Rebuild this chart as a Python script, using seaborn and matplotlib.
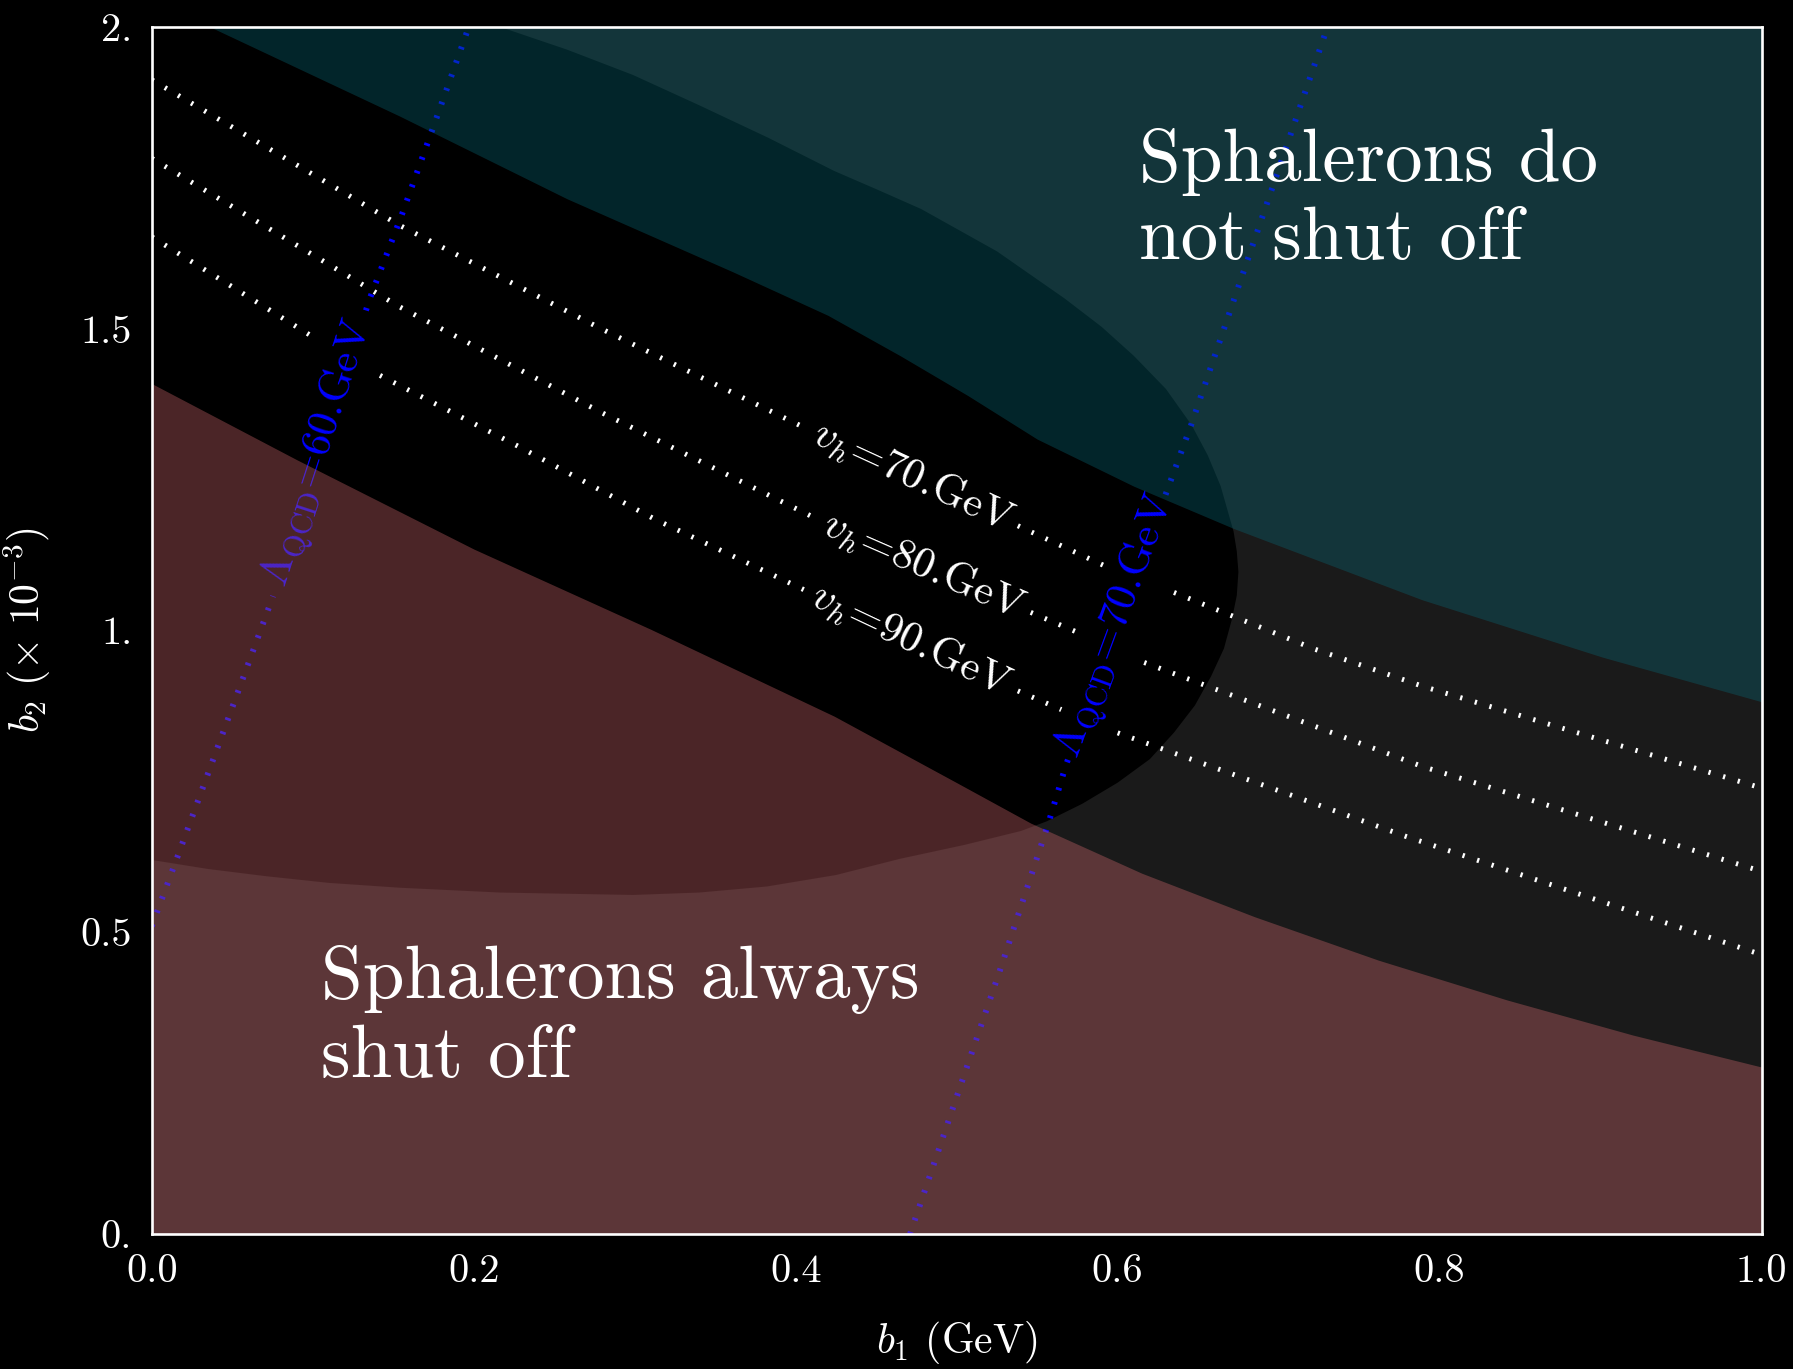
import numpy as np
import matplotlib
matplotlib.use("Agg")
import matplotlib.pyplot as plt
import seaborn as sns
from matplotlib.ticker import MultipleLocator

# ---------------- data ----------------
# region boundaries
teal_x = [0.036, 0.154, 0.258, 0.361, 0.420, 0.465, 0.507, 0.550, 0.610, 0.672, 0.789, 0.901, 1.0]
teal_lower = [2.0, 1.852, 1.715, 1.594, 1.522, 1.455, 1.389, 1.317, 1.239, 1.169, 1.051, 0.956, 0.882]

brown_x = [0.0, 0.09, 0.20, 0.31, 0.424, 0.50, 0.546, 0.615, 0.685, 0.762, 0.842, 0.92, 1.0]
brown_upper = [1.409, 1.283, 1.135, 1.002, 0.858, 0.748, 0.681, 0.598, 0.526, 0.454, 0.388, 0.330, 0.277]

dark_x = [0.0, 0.035, 0.0713, 0.110, 0.154, 0.2164, 0.299, 0.340, 0.382, 0.425, 0.465, 0.505,
          0.540, 0.556, 0.578, 0.600, 0.620, 0.635, 0.648, 0.658, 0.666, 0.671, 0.674, 0.675,
          0.674, 0.672, 0.664, 0.656, 0.646, 0.630, 0.610, 0.590, 0.567, 0.525, 0.478, 0.450,
          0.424, 0.383, 0.340, 0.299, 0.258, 0.216, 0.0]
dark_y = [0.620, 0.605, 0.593, 0.582, 0.574, 0.566, 0.562, 0.566, 0.576, 0.595, 0.622, 0.645,
          0.668, 0.684, 0.713, 0.748, 0.787, 0.831, 0.876, 0.924, 0.970, 1.019, 1.058, 1.097,
          1.131, 1.164, 1.239, 1.290, 1.340, 1.400, 1.455, 1.503, 1.550, 1.628, 1.698, 1.731,
          1.761, 1.816, 1.870, 1.920, 1.962, 2.0, 2.0]

# v_h contours
vh70_x = [0.0, 0.154, 0.279, 0.407, 0.538, 0.592, 0.635, 0.7225, 0.789, 1.0]
vh70_y = [1.912, 1.671, 1.500, 1.334, 1.1735, 1.107, 1.063, 0.969, 0.908, 0.739]
vh80_x = [0.0, 0.154, 0.279, 0.413, 0.546, 0.575, 0.6165, 0.789, 1.0]
vh80_y = [1.782, 1.536, 1.3615, 1.185, 1.030, 0.997, 0.947, 0.775, 0.601]
vh90_x = [0.0, 0.1003, 0.1418, 0.227, 0.312, 0.538, 0.565, 0.600, 0.779, 1.0]
vh90_y = [1.652, 1.486, 1.4225, 1.306, 1.185, 0.900, 0.869, 0.8305, 0.659, 0.463]

# Lambda_QCD contours
lq60_x = [0.0, 0.0153, 0.0754, 0.1355, 0.1553, 0.1744, 0.197]
lq60_y = [0.51, 0.62, 1.057, 1.55, 1.688, 1.83, 2.0]
lq70_x = [0.471, 0.4993, 0.527, 0.557, 0.568, 0.631, 0.6456, 0.6725, 0.7304]
lq70_y = [0.0, 0.222, 0.438, 0.681, 0.778, 1.234, 1.34, 1.55, 2.0]

# label gaps (along x for v_h lines, along y for Lambda lines)
vh70_gaps = [(0.407, 0.538), (0.592, 0.635)]
vh80_gaps = [(0.413, 0.546), (0.575, 0.6165)]
vh90_gaps = [(0.1003, 0.1418), (0.405, 0.538), (0.565, 0.600)]
lq60_gaps = [(1.057, 1.53)]
lq70_gaps = [(0.79, 1.225)]

vh_labels = ["70", "80", "90"]
lq_labels = ["60", "70"]

x_ticks = [0.0, 0.2, 0.4, 0.6, 0.8, 1.0]
x_ticklabels = ["0.0", "0.2", "0.4", "0.6", "0.8", "1.0"]
y_ticks = [0.0, 0.5, 1.0, 1.5, 2.0]
y_ticklabels = ["0.", "0.5", "1.", "1.5", "2."]

# ---------------- style ----------------
sns.set_theme(style="dark", rc={
    "figure.facecolor": "black",
    "axes.facecolor": "#1a1a1a",
    "axes.edgecolor": "white",
    "text.color": "white",
    "axes.labelcolor": "white",
    "xtick.color": "white",
    "ytick.color": "white",
})
plt.rcParams["font.family"] = ["cmr10"]
plt.rcParams["mathtext.fontset"] = "cm"
plt.rcParams["axes.formatter.use_mathtext"] = True
plt.rcParams["axes.unicode_minus"] = False

fig = plt.figure(figsize=(17.93, 13.69), dpi=100)
ax = fig.add_axes([0.0846, 0.0984, 0.8979, 0.8821])
ax.set_facecolor("#1a1a1a")
ax.set_xlim(0, 1)
ax.set_ylim(0, 2)

# dark (black) region
ax.fill(dark_x, dark_y, color="black", lw=0, zorder=1)


def draw_contour(xs, ys, gaps, along, color, lw, dash):
    xs = np.asarray(xs, float)
    ys = np.asarray(ys, float)
    t = xs if along == "x" else ys
    v = ys if along == "x" else xs
    edges = [t[0]] + [g for pair in sorted(gaps) for g in pair] + [t[-1]]
    for a, b in zip(edges[::2], edges[1::2]):
        inner = (t > a) & (t < b)
        tt = np.concatenate([[a], t[inner], [b]])
        vv = np.interp(tt, t, v)
        px, py = (tt, vv) if along == "x" else (vv, tt)
        sns.lineplot(x=px, y=py, sort=False, estimator=None, color=color,
                     lw=lw, linestyle=dash, ax=ax, zorder=1.5)


def label(xs, ys, gap, along, text, color):
    xs = np.asarray(xs, float)
    ys = np.asarray(ys, float)
    a, b = gap
    if along == "x":
        ya, yb = np.interp([a, b], xs, ys)
        cx, cy = (a + b) / 2, np.interp((a + b) / 2, xs, ys)
        ang = np.degrees(np.arctan2(yb - ya, b - a))
    else:
        xa, xb = np.interp([a, b], ys, xs)
        cy, cx = (a + b) / 2, np.interp((a + b) / 2, ys, xs)
        ang = np.degrees(np.arctan2(b - a, xb - xa))
    ax.text(cx, cy, text, color=color, fontsize=31, ha="center", va="center",
            rotation=ang, rotation_mode="anchor", transform_rotates_text=True,
            zorder=1.6)


for xs, ys, gaps, lab in [(vh70_x, vh70_y, vh70_gaps, vh_labels[0]),
                          (vh80_x, vh80_y, vh80_gaps, vh_labels[1]),
                          (vh90_x, vh90_y, vh90_gaps, vh_labels[2])]:
    draw_contour(xs, ys, gaps, "x", "white", 3.6, (0, (0.45, 2.6)))
    main_gap = max(gaps, key=lambda g: g[1] - g[0])
    label(xs, ys, main_gap, "x", r"$v_h$=" + lab + ".GeV", "white")

for xs, ys, gaps, lab in [(lq60_x, lq60_y, lq60_gaps, lq_labels[0]),
                          (lq70_x, lq70_y, lq70_gaps, lq_labels[1])]:
    draw_contour(xs, ys, gaps, "y", "#0000ff", 4.3, (0, (0.45, 2.0)))
    label(xs, ys, gaps[0], "y", r"$\Lambda_{\mathrm{QCD}}$=" + lab + ".GeV", "#0000ff")

# translucent regions on top
ax.fill_between(brown_x, 0, brown_upper, color=(0.80, 0.40, 0.42), alpha=0.373,
                lw=0, zorder=2)
ax.fill_between(teal_x, teal_lower, 2.0, color=(0.03, 0.40, 0.45), alpha=0.37,
                lw=0, zorder=2)

# annotations (y = baseline of the last line)
ax.text(0.613, 1.616, "Sphalerons do\nnot shut off", fontsize=54, color="white",
        ha="left", va="baseline", zorder=5)
ax.text(0.105, 0.260, "Sphalerons always\nshut off", fontsize=54, color="white",
        ha="left", va="baseline", zorder=5)

# axes decoration
for s in ax.spines.values():
    s.set_color("white")
    s.set_linewidth(1.9)
    s.set_zorder(6)
ax.set_xticks(x_ticks)
ax.set_xticklabels(x_ticklabels)
ax.set_yticks(y_ticks)
ax.set_yticklabels(y_ticklabels)
ax.xaxis.set_minor_locator(MultipleLocator(0.05))
ax.tick_params(which="both", direction="in", colors="white", top=False, right=False,
               labelsize=29, pad=14)
ax.tick_params(which="major", length=8, width=1.6)
ax.tick_params(which="minor", length=4.3, width=1.6)
ax.tick_params(axis="y", which="minor", left=False)
ax.xaxis.set_zorder(6)
ax.yaxis.set_zorder(6)
ax.grid(False)

ax.set_xlabel(r"$b_1$ (GeV)", fontsize=30, color="white", labelpad=21)
ax.set_ylabel(r"$b_2\ (\times\ 10^{-3})$", fontsize=30, color="white", labelpad=20)

fig.savefig("out.png", dpi=100, facecolor="black")
